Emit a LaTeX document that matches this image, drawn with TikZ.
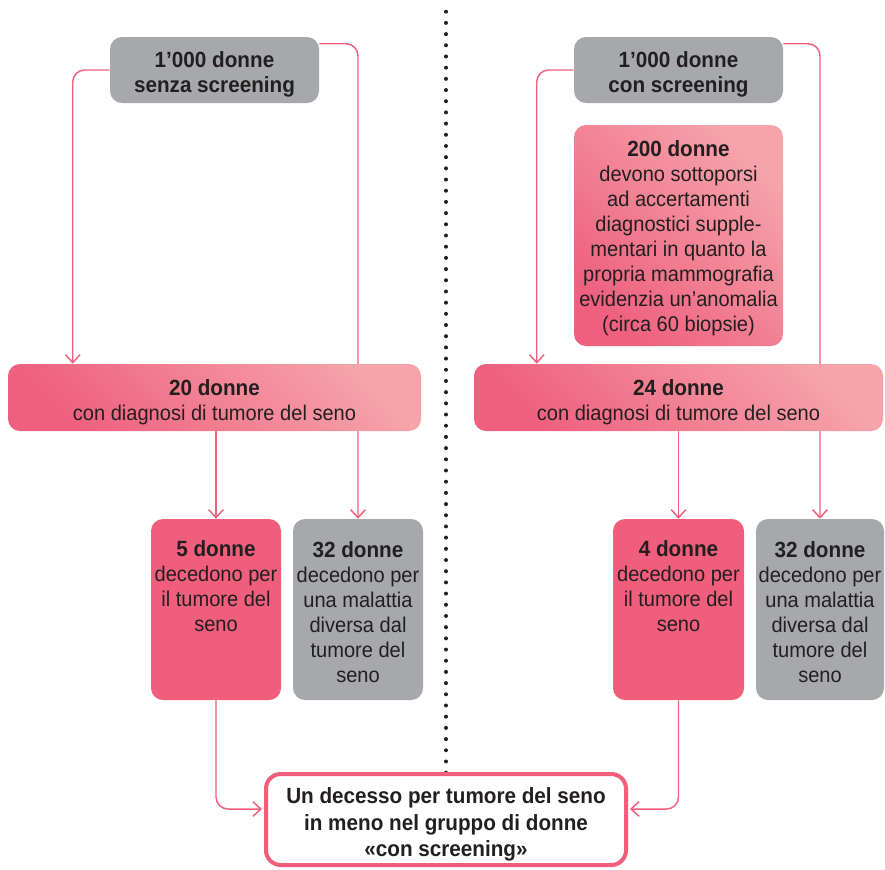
\documentclass[tikz,border=0pt]{standalone}
\usepackage{fontspec}
\setmainfont{Liberation Sans}[FakeStretch=0.94]
\usetikzlibrary{arrows.meta,backgrounds,calc}
\definecolor{pk}{RGB}{240,94,124}
\definecolor{pkdark}{RGB}{238,96,126}
\definecolor{pklight}{RGB}{246,163,170}
\definecolor{gr}{RGB}{167,168,172}
\definecolor{tx}{RGB}{35,31,32}
\newcommand\bt[1]{{\fontsize{16.5pt}{18.75pt}\selectfont\bfseries #1}}
\begin{document}
\begin{tikzpicture}[x=0.75pt,y=-0.75pt,
  every node/.style={text=tx, font=\fontsize{16pt}{18.75pt}\selectfont, align=center, inner sep=0pt},
  graybox/.style={fill=gr, rounded corners=9pt},
  pinkbox/.style={fill=pk, rounded corners=9pt},
  gradbox/.style={rounded corners=9pt, top color=pklight, bottom color=pkdark, shading angle=-45},
  finalbox/.style={draw=pk, line width=3pt, fill=white, rounded corners=11pt},
  conn/.style={draw=pk, line width=1.1pt, rounded corners=9pt, -{Straight Barb[length=6pt,width=11pt]}},
]
\useasboundingbox (0,0) rectangle (885,869);

% top boxes
\node[graybox, minimum width=156.75pt, minimum height=49.5pt] (top1) at (214.5,70) {};
\node (top1t) at ($(top1)+(0,4)$) {\bt{1’000 donne}\\\bt{senza screening}};
\node[graybox, minimum width=156.75pt, minimum height=49.5pt] (top2) at (678.5,70) {};
\node (top2t) at ($(top2)+(0,4)$) {\bt{1’000 donne}\\\bt{con screening}};

% 200 donne
\node[gradbox, minimum width=156.75pt, minimum height=165.75pt] (b200) at (678.5,235.5) {};
\node (b200t) at ($(b200)+(0,3)$)
  {\bt{200 donne}\\devono sottoporsi\\ad accertamenti\\diagnostici supple-\\mentari in quanto la\\propria mammografia\\evidenzia un’anomalia\\(circa 60 biopsie)};

% middle boxes
\node[gradbox, minimum width=309.75pt, minimum height=50.25pt] (mid1) at (214.5,397.5) {};
\node (mid1t) at ($(mid1)+(0,5)$) {\bt{20 donne}\\con diagnosi di tumore del seno};
\node[gradbox, minimum width=306.75pt, minimum height=50.25pt] (mid2) at (678.5,397.5) {};
\node (mid2t) at ($(mid2)+(0,5)$) {\bt{24 donne}\\con diagnosi di tumore del seno};

% death boxes
\node[pinkbox, minimum width=97.5pt, minimum height=135.75pt] (d1) at (216,609.5) {};
\node[anchor=north] (d1t) at (216,540) {\bt{5 donne}\\decedono per\\il tumore del\\seno};
\node[graybox, minimum width=97.5pt, minimum height=135.75pt] (o1) at (358,609.5) {};
\node (o1t) at ($(o1)+(0,2.5)$) {\bt{32 donne}\\decedono per\\una malattia\\diversa dal\\tumore del\\seno};
\node[pinkbox, minimum width=98.25pt, minimum height=135.75pt] (d2) at (678.5,609.5) {};
\node[anchor=north] (d2t) at (678.5,540) {\bt{4 donne}\\decedono per\\il tumore del\\seno};
\node[graybox, minimum width=96pt, minimum height=135.75pt] (o2) at (820,609.5) {};
\node (o2t) at ($(o2)+(0,2.5)$) {\bt{32 donne}\\decedono per\\una malattia\\diversa dal\\tumore del\\seno};

% final box
\node[finalbox, minimum width=270pt, minimum height=68.25pt] (fin) at (446,819.5) {};
\node[font=\fontsize{16pt}{19.9pt}\selectfont] (fint) at ($(fin)+(0,5)$)
  {\bt{Un decesso per tumore del seno}\\\bt{in meno nel gruppo di donne}\\\bt{«con screening»}};

\begin{scope}[on background layer]
  \foreach \i in {0,...,68} \fill[tx] (446,{11.7+\i*11.19}) circle (1.5pt);
  \draw[conn] (top1.west) -| ($(mid1.north west)+(65,0)$);
  \draw[conn] ($(top1.north east)+(0,7)$) -| (o1.north);
  \draw[conn] (d1.north |- mid1.south) -- (d1.north);
  \draw[conn, shorten >=1.5pt] (d1.south) |- ($(fin.west)+(0,-10.5)$);
  \draw[conn] (top2.west) -| ($(mid2.north west)+(63,0)$);
  \draw[conn] ($(top2.north east)+(0,7)$) -| (o2.north);
  \draw[conn] (d2.north |- mid2.south) -- (d2.north);
  \draw[conn, shorten >=1.5pt] (d2.south) |- ($(fin.east)+(0,-10.5)$);
\end{scope}
\end{tikzpicture}
\end{document}
